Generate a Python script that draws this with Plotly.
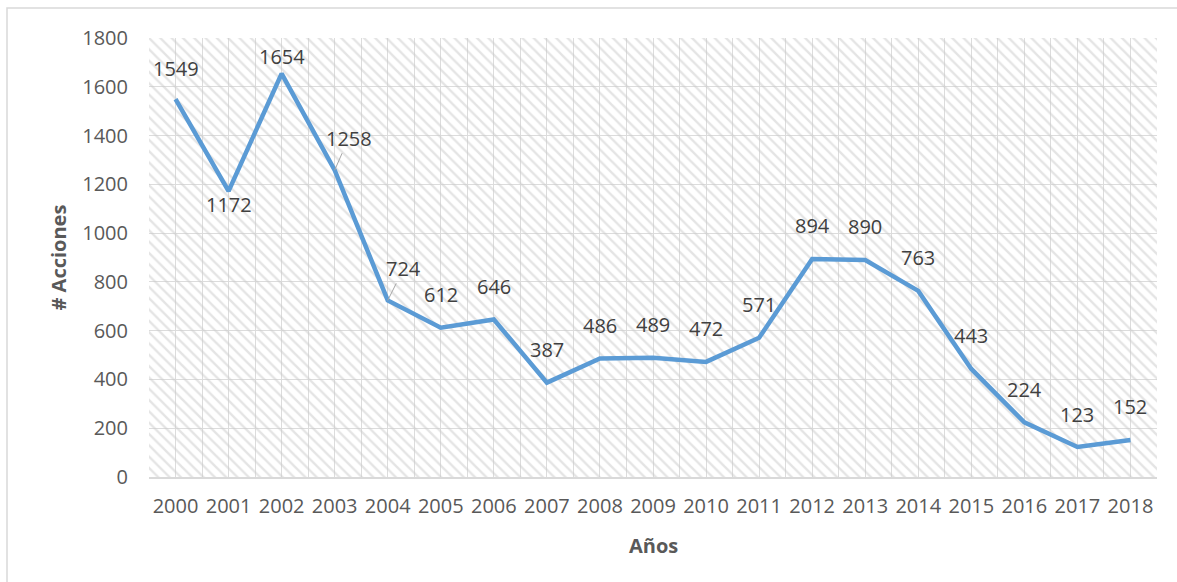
import plotly.graph_objects as go

# Yearly totals
years = ["2000", "2001", "2002", "2003", "2004", "2005", "2006", "2007", "2008", "2009",
         "2010", "2011", "2012", "2013", "2014", "2015", "2016", "2017", "2018"]
acciones = [1549, 1172, 1654, 1258, 724, 612, 646, 387, 486, 489,
            472, 571, 894, 890, 763, 443, 224, 123, 152]
y_ticks = [0, 200, 400, 600, 800, 1000, 1200, 1400, 1600, 1800]

W, H = 1177, 582
L, R, T, B = 149, 20, 38, 105
plot_w = W - L - R
plot_h = H - T - B

idx = list(range(len(years)))
n = len(years)
y_top = y_ticks[-1]

FONT = "Open Sans"
TICK_COLOR = "#595959"
LABEL_COLOR = "#404040"
GRID = "#dcdcdc"

fig = go.Figure()

# Hatched plot-area background
fig.add_trace(go.Scatter(
    x=[-0.5, n - 0.5, n - 0.5, -0.5, -0.5],
    y=[0, 0, y_top, y_top, 0],
    mode="lines", line=dict(width=0), fill="toself",
    fillcolor="rgba(0,0,0,0)",
    fillpattern=dict(shape="\\", fgcolor="#cacaca", bgcolor="rgba(0,0,0,0)",
                     size=8, solidity=0.3),
    hoverinfo="skip", showlegend=False,
))

fig.add_trace(go.Scatter(
    x=idx, y=acciones, mode="lines",
    line=dict(color="#5B9BD5", width=4.5),
    hoverinfo="skip", showlegend=False,
))

# Data labels: pixel offsets of each label relative to its point
offsets = {i: (0, -33) for i in idx}
offsets[1] = (0, 13)
offsets[2] = (0, -17)
offsets[0] = (0, -31)
leader = {3: (14, -32), 4: (16, -32)}

annotations = []
for i, v in zip(idx, acciones):
    if i in leader:
        dx, dy = leader[i]
        annotations.append(dict(
            x=i, y=v, xref="x", yref="y", text=str(v), showarrow=True,
            ax=dx, ay=dy, arrowhead=0, arrowwidth=1, arrowcolor="#a6a6a6",
            standoff=0, font=dict(family=FONT, size=20, color=LABEL_COLOR),
        ))
    else:
        dx, dy = offsets[i]
        annotations.append(dict(
            x=i, y=v, xref="x", yref="y", text=str(v), showarrow=False,
            xshift=dx, yshift=-dy, font=dict(family=FONT, size=20, color=LABEL_COLOR),
        ))

# Axis titles
annotations.append(dict(
    text="<b># Acciones</b>", xref="paper", yref="paper",
    x=(58 - L) / plot_w, y=0.5, textangle=-90, showarrow=False,
    xanchor="center", yanchor="middle",
    font=dict(family=FONT, size=20, color=TICK_COLOR),
))
annotations.append(dict(
    text="<b>Años</b>", xref="paper", yref="paper",
    x=0.5, y=(H - B - 545) / plot_h, showarrow=False,
    xanchor="center", yanchor="middle",
    font=dict(family=FONT, size=20, color=TICK_COLOR),
))

fig.update_layout(
    width=W, height=H,
    margin=dict(l=L, r=R, t=T, b=B),
    paper_bgcolor="white", plot_bgcolor="white",
    annotations=annotations,
    shapes=[dict(
        type="rect", xref="paper", yref="paper",
        x0=(7 - L) / plot_w, x1=(W + 10 - L) / plot_w,
        y0=(H - B - (H + 10)) / plot_h, y1=(H - B - 8) / plot_h,
        line=dict(color="#d9d9d9", width=1.5), fillcolor="rgba(0,0,0,0)",
        layer="below",
    )],
    xaxis=dict(
        range=[-0.5, n - 0.5], tickvals=idx, ticktext=years,
        showgrid=True, gridcolor=GRID, gridwidth=1,
        minor=dict(tickvals=[i - 0.5 for i in range(n + 1)], showgrid=True,
                   gridcolor=GRID, gridwidth=1),
        showline=True, linecolor="#d9d9d9", linewidth=1.5,
        zeroline=False, ticks="", ticklabelstandoff=10,
        tickfont=dict(family=FONT, size=20, color=TICK_COLOR),
    ),
    yaxis=dict(
        range=[0, y_top], tickvals=y_ticks,
        showgrid=True, gridcolor=GRID, gridwidth=1,
        zeroline=False, showline=False, ticks="", ticklabelstandoff=20,
        tickfont=dict(family=FONT, size=20, color=TICK_COLOR),
    ),
)

fig.write_html("out.html")
